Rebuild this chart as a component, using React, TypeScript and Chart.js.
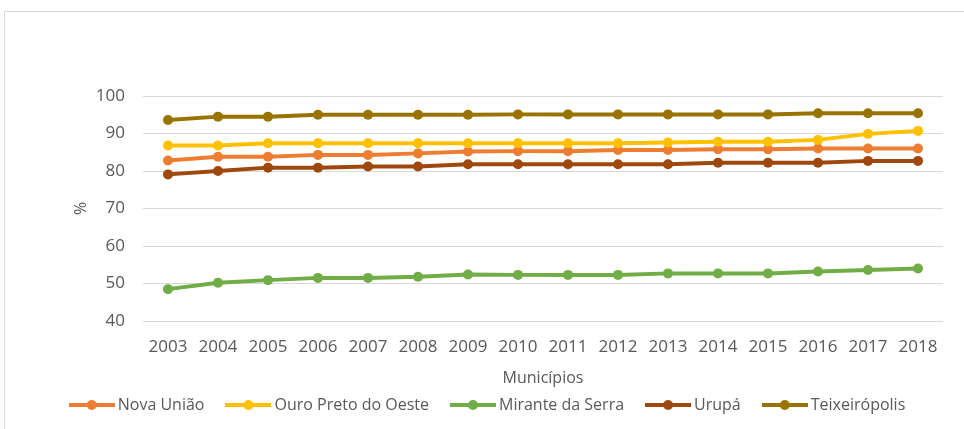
import React, { useEffect, useRef } from "react";
import { Chart, registerables } from "chart.js";

Chart.register(...registerables);

const years = ["2003", "2004", "2005", "2006", "2007", "2008", "2009", "2010", "2011", "2012", "2013", "2014", "2015", "2016", "2017", "2018"];
const novaUniao = [82.8, 83.8, 83.8, 84.3, 84.3, 84.7, 85.2, 85.3, 85.3, 85.6, 85.6, 85.8, 85.8, 86.0, 86.0, 86.0];
const ouroPreto = [86.8, 86.8, 87.4, 87.4, 87.4, 87.4, 87.4, 87.4, 87.4, 87.4, 87.6, 87.8, 87.8, 88.3, 89.9, 90.7];
const miranteSerra = [48.5, 50.2, 50.9, 51.5, 51.5, 51.8, 52.4, 52.3, 52.3, 52.3, 52.7, 52.7, 52.7, 53.2, 53.6, 54.0];
const urupa = [79.1, 80.0, 80.9, 80.9, 81.2, 81.2, 81.8, 81.8, 81.8, 81.8, 81.8, 82.2, 82.2, 82.2, 82.7, 82.7];
const teixeiropolis = [93.6, 94.5, 94.5, 95.0, 95.0, 95.0, 95.0, 95.1, 95.1, 95.1, 95.1, 95.1, 95.1, 95.4, 95.4, 95.4];

const seriesNames = ["Nova União", "Ouro Preto do Oeste", "Mirante da Serra", "Urupá", "Teixeirópolis"];
const seriesColors = ["#ED7D31", "#FFC000", "#70AD47", "#9E480E", "#997300"];
const seriesData = [novaUniao, ouroPreto, miranteSerra, urupa, teixeiropolis];

const yTicks = [40, 50, 60, 70, 80, 90, 100];
const xTitle = "Municípios";
const yTitle = "%";

const TEXT = "#595959";
const FONT = "'Open Sans', 'Noto Sans', sans-serif";

function legendMarker(color: string): HTMLCanvasElement {
  const c = document.createElement("canvas");
  c.width = 46;
  c.height = 12;
  const ctx = c.getContext("2d")!;
  ctx.strokeStyle = color;
  ctx.lineWidth = 4;
  ctx.beginPath();
  ctx.moveTo(0, 6);
  ctx.lineTo(46, 6);
  ctx.stroke();
  ctx.fillStyle = color;
  ctx.beginPath();
  ctx.arc(23, 6, 5, 0, Math.PI * 2);
  ctx.fill();
  return c;
}

export default function App() {
  const ref = useRef<HTMLCanvasElement | null>(null);

  useEffect(() => {
    if (!ref.current) return;
    const markers = seriesColors.map((c) => legendMarker(c));
    const chart = new Chart(ref.current, {
      type: "line",
      data: {
        labels: years,
        datasets: seriesNames.map((name, i) => ({
          label: name,
          data: seriesData[i],
          borderColor: seriesColors[i],
          backgroundColor: seriesColors[i],
          borderWidth: 4,
          pointRadius: 5,
          pointBorderWidth: 0,
          pointBackgroundColor: seriesColors[i],
          tension: 0,
          fill: false,
          order: 5 - i,
        })),
      },
      options: {
        animation: false,
        responsive: false,
        maintainAspectRatio: false,
        devicePixelRatio: 1,
        layout: { padding: { top: 96, right: 21, bottom: 6, left: 36 } },
        plugins: {
          tooltip: { enabled: false },
          legend: {
            position: "bottom",
            labels: {
              usePointStyle: true,
              pointStyleWidth: 36,
              padding: 26,
              color: TEXT,
              font: { family: FONT, size: 16 },
              generateLabels: () =>
                seriesNames.map((name, i) => ({
                  text: name,
                  fillStyle: seriesColors[i],
                  strokeStyle: seriesColors[i],
                  lineWidth: 0,
                  pointStyle: markers[i] as any,
                  hidden: false,
                  datasetIndex: i,
                  fontColor: TEXT,
                })),
            },
          },
        },
        scales: {
          x: {
            offset: true,
            grid: { display: false },
            border: { display: false },
            ticks: { color: TEXT, font: { family: FONT, size: 17 }, padding: 8, maxRotation: 0, autoSkip: false },
            title: {
              display: true,
              text: xTitle,
              color: TEXT,
              font: { family: FONT, size: 16 },
              padding: { top: 0, bottom: -17 },
            },
            afterFit: (s: any) => {
              s.height = 50;
            },
          },
          y: {
            min: 40,
            max: 100,
            afterBuildTicks: (s: any) => {
              s.ticks = yTicks.map((v) => ({ value: v }));
            },
            grid: { color: "#d9d9d9", lineWidth: 1, drawTicks: false },
            border: { display: false },
            ticks: { color: TEXT, font: { family: FONT, size: 17 }, padding: 18 },
            title: {
              display: true,
              text: yTitle,
              color: TEXT,
              font: { family: FONT, size: 16 },
              padding: { top: 36, bottom: 0 },
            },
            afterFit: (s: any) => {
              s.width = 107;
            },
          },
        },
      },
    });
    return () => chart.destroy();
  }, []);

  return (
    <div style={{ position: "fixed", left: 0, top: 0, width: 964, height: 429, overflow: "hidden", background: "#fff" }}>
      <div
        style={{
          position: "absolute",
          left: 4,
          top: 11,
          width: 1000,
          height: 500,
          border: "1px solid #d9d9d9",
          boxSizing: "border-box",
        }}
      />
      <canvas ref={ref} width={964} height={429} style={{ position: "absolute", left: 0, top: 0, width: 964, height: 429 }} />
    </div>
  );
}
